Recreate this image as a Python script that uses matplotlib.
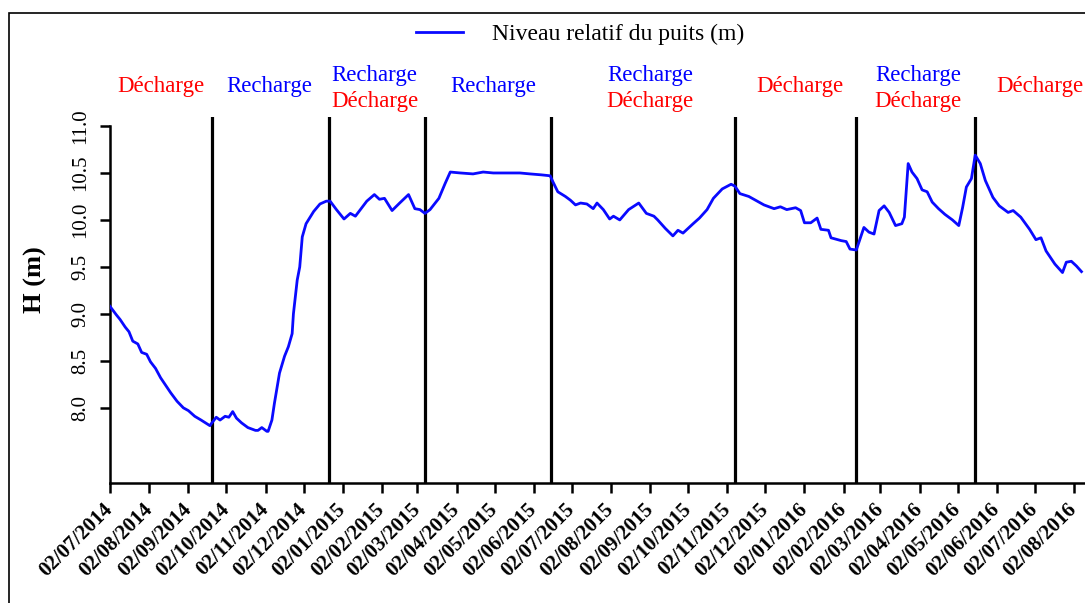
import datetime as dt
import matplotlib
matplotlib.use("Agg")
import matplotlib.pyplot as plt
import matplotlib.transforms as mtransforms
from matplotlib.patches import Rectangle
import pandas as pd

plt.rcParams["font.family"] = ["Liberation Serif", "DejaVu Serif"]

# Relative well level, days since 02/07/2014
start_date = dt.datetime(2014, 7, 2)
day_offset = [
    0, 5, 8, 12, 15, 18, 22, 25, 29, 32, 36, 40, 43, 48, 53, 58, 62, 67, 72, 79,
    80, 84, 87, 91, 94, 97, 100, 104, 109, 115, 117, 120, 124, 125, 128, 130, 134,
    138, 141, 144, 145, 148, 150, 152, 155, 161, 166, 171, 174, 179, 185, 190, 194,
    203, 209, 213, 217, 223, 229, 236, 241, 245, 249, 253, 260, 265, 269, 277, 287,
    295, 303, 314, 324, 332, 341, 348, 350, 354, 360, 364, 368, 372, 377, 382, 385,
    390, 395, 398, 403, 410, 418, 424, 430, 433, 439, 445, 449, 453, 461, 466, 472,
    477, 484, 491, 494, 498, 505, 509, 517, 525, 530, 535, 542, 546, 549, 554, 559,
    562, 568, 570, 578, 582, 585, 590, 592, 596, 600, 604, 608, 612, 616, 621, 626,
    628, 631, 634, 638, 642, 646, 650, 655, 660, 666, 671, 674, 677, 681, 684, 688,
    692, 698, 703, 710, 714, 720, 727, 732, 736, 740, 747, 753, 756, 760, 764, 768,
]
level_m = [
    9.08, 8.99, 8.94, 8.86, 8.81, 8.71, 8.68, 8.59, 8.57, 8.49, 8.42, 8.32, 8.26,
    8.16, 8.07, 8.00, 7.97, 7.91, 7.87, 7.81, 7.83, 7.90, 7.87, 7.91, 7.90, 7.96,
    7.89, 7.84, 7.79, 7.76, 7.76, 7.79, 7.75, 7.75, 7.87, 8.05, 8.37, 8.55, 8.65,
    8.79, 9.00, 9.36, 9.50, 9.82, 9.96, 10.09, 10.17, 10.20, 10.20, 10.11, 10.01,
    10.07, 10.04, 10.20, 10.27, 10.22, 10.23, 10.10, 10.18, 10.27, 10.12, 10.11,
    10.07, 10.11, 10.23, 10.39, 10.51, 10.50, 10.49, 10.51, 10.50, 10.50, 10.50,
    10.49, 10.48, 10.47, 10.41, 10.30, 10.25, 10.21, 10.16, 10.18, 10.17, 10.12,
    10.18, 10.11, 10.01, 10.04, 10.00, 10.11, 10.18, 10.07, 10.04, 10.00, 9.91,
    9.83, 9.89, 9.86, 9.96, 10.02, 10.11, 10.23, 10.33, 10.38, 10.36, 10.28, 10.25,
    10.22, 10.16, 10.12, 10.14, 10.11, 10.13, 10.10, 9.97, 9.97, 10.02, 9.90, 9.89,
    9.81, 9.78, 9.77, 9.69, 9.68, 9.76, 9.92, 9.87, 9.85, 10.10, 10.15, 10.08, 9.94,
    9.96, 10.03, 10.60, 10.51, 10.44, 10.32, 10.30, 10.19, 10.12, 10.06, 10.00,
    9.94, 10.13, 10.35, 10.44, 10.69, 10.60, 10.42, 10.24, 10.15, 10.08, 10.10,
    10.03, 9.90, 9.79, 9.81, 9.67, 9.53, 9.44, 9.55, 9.56, 9.51, 9.45,
]

# Phase boundaries and phase names
boundary_dates = ["2014-09-21", "2014-12-22", "2015-03-08", "2015-06-16",
                  "2015-11-08", "2016-02-12", "2016-05-16"]
phase_centers = ["2014-08-11", "2014-11-05", "2015-01-27", "2015-05-01",
                 "2015-09-02", "2015-12-29", "2016-04-01", "2016-07-06"]
phase_names = [["Décharge"], ["Recharge"], ["Recharge", "Décharge"], ["Recharge"],
               ["Recharge", "Décharge"], ["Décharge"], ["Recharge", "Décharge"],
               ["Décharge"]]
phase_colors = {"Recharge": "#0000ff", "Décharge": "#ff0000"}

y_ticks = [8.0, 8.5, 9.0, 9.5, 10.0, 10.5, 11.0]
x_ticks = pd.date_range("2014-07-02", periods=26, freq=pd.DateOffset(months=1))

dates = [start_date + dt.timedelta(days=d) for d in day_offset]

fig = plt.figure(figsize=(10.85, 6.03), dpi=100)
ax = fig.add_axes([110 / 1085, 120 / 603, 974 / 1085, 366.4 / 603])

line, = ax.plot(dates, level_m, color="#0a0aff", lw=2.0,
                label="Niveau relatif du puits (m)", zorder=3)

for b in boundary_dates:
    ax.axvline(pd.Timestamp(b), color="black", lw=2.3, zorder=2)

ax.set_xlim(start_date, start_date + dt.timedelta(days=770))
ax.set_ylim(7.2, 11.1)
ax.spines["top"].set_visible(False)
ax.spines["right"].set_visible(False)
for s in ("left", "bottom"):
    ax.spines[s].set_linewidth(1.8)
ax.spines["left"].set_bounds(7.2, 11.0)

ax.set_yticks(y_ticks)
ax.set_yticklabels([f"{v:.1f}" for v in y_ticks], rotation=90, va="center",
                   fontsize=15)
ax.tick_params(axis="y", direction="out", length=7, width=1.8, pad=7)

ax.set_xticks(x_ticks)
ax.set_xticklabels([d.strftime("%d/%m/%Y") for d in x_ticks], rotation=45,
                   ha="right", va="center", rotation_mode="anchor",
                   fontsize=15, fontweight="bold")
ax.tick_params(axis="x", direction="out", length=7, width=1.8, pad=10)

fig.text(35.5 / 1085, 1 - 280 / 603, "H (m)", rotation=90, ha="center",
         va="center", fontsize=19, fontweight="bold")

# Phase annotations above the plot
trans = mtransforms.blended_transform_factory(ax.transData, fig.transFigure)
for center, names in zip(phase_centers, phase_names):
    x = pd.Timestamp(center)
    if len(names) == 1:
        ax.text(x, 1 - 92 / 603, names[0], transform=trans, ha="center",
                va="baseline", fontsize=16.5, color=phase_colors[names[0]],
                clip_on=False)
    else:
        for name, yb in zip(names, (81, 107)):
            ax.text(x, 1 - yb / 603, name, transform=trans, ha="center",
                    va="baseline", fontsize=16.5, color=phase_colors[name],
                    clip_on=False)

fig.legend(handles=[line], loc="center", bbox_to_anchor=(580 / 1085, 1 - 34 / 603),
           frameon=False, fontsize=17, handlelength=2.0, handletextpad=1.2)

# Frame around the figure
fig.add_artist(Rectangle((8.8 / 1085, -0.1), 1.2, 1 - 13 / 603 + 0.1,
                         transform=fig.transFigure, fill=False,
                         edgecolor="black", lw=1.2))

fig.savefig("out.png", dpi=100)
